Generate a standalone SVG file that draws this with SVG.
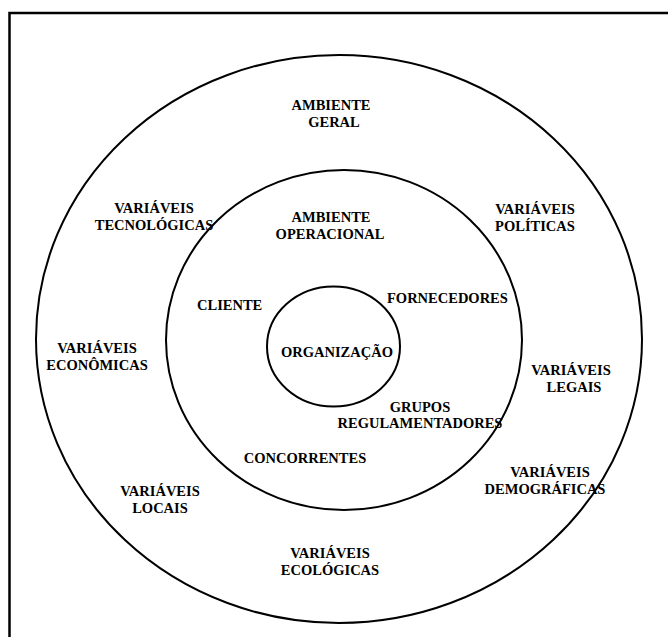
<svg xmlns="http://www.w3.org/2000/svg" width="668" height="637" viewBox="0 0 668 637">
  <style>
    .ring { fill: none; stroke: #000; stroke-width: 2; }
    .frame { fill: none; stroke: #000; stroke-width: 2.5; }
    text { font-family: "Liberation Serif", "Times New Roman", serif; font-weight: bold; font-size: 14.5px; fill: #000; }
    .c { text-anchor: middle; }
  </style>
  <rect width="668" height="637" fill="#fff"/>

  <!-- open frame: top and left edges only -->
  <path class="frame" d="M9.5 637 V13 H668"/>

  <g id="ambiente-geral">
    <ellipse class="ring" cx="339" cy="339" rx="303" ry="284"/>
    <text class="c" x="331" y="110">AMBIENTE</text>
    <text class="c" x="334" y="127">GERAL</text>
  </g>

  <g id="ambiente-operacional">
    <ellipse class="ring" cx="344" cy="340" rx="178" ry="170"/>
    <text class="c" x="331" y="222">AMBIENTE</text>
    <text class="c" x="330" y="239">OPERACIONAL</text>
  </g>

  <g id="organizacao">
    <ellipse class="ring" cx="333.5" cy="346.5" rx="66.5" ry="60"/>
    <text class="c" x="337" y="357">ORGANIZAÇÃO</text>
  </g>

  <!-- operational environment actors -->
  <g id="cliente"><text x="197" y="310">CLIENTE</text></g>
  <g id="fornecedores"><text x="387" y="303">FORNECEDORES</text></g>
  <g id="grupos-regulamentadores">
    <text class="c" x="420" y="412">GRUPOS</text>
    <text class="c" x="420" y="428">REGULAMENTADORES</text>
  </g>
  <g id="concorrentes"><text class="c" x="305" y="463">CONCORRENTES</text></g>

  <!-- general environment variables -->
  <g id="var-tecnologicas">
    <text class="c" x="154" y="213">VARIÁVEIS</text>
    <text class="c" x="154" y="230">TECNOLÓGICAS</text>
  </g>
  <g id="var-politicas">
    <text class="c" x="535" y="214">VARIÁVEIS</text>
    <text class="c" x="535" y="231">POLÍTICAS</text>
  </g>
  <g id="var-economicas">
    <text class="c" x="97" y="353">VARIÁVEIS</text>
    <text class="c" x="97" y="370">ECONÔMICAS</text>
  </g>
  <g id="var-legais">
    <text class="c" x="571" y="375">VARIÁVEIS</text>
    <text class="c" x="574" y="392">LEGAIS</text>
  </g>
  <g id="var-demograficas">
    <text class="c" x="550" y="477">VARIÁVEIS</text>
    <text class="c" x="545" y="494">DEMOGRÁFICAS</text>
  </g>
  <g id="var-locais">
    <text class="c" x="160" y="496">VARIÁVEIS</text>
    <text class="c" x="160" y="513">LOCAIS</text>
  </g>
  <g id="var-ecologicas">
    <text class="c" x="330" y="558">VARIÁVEIS</text>
    <text class="c" x="330" y="575">ECOLÓGICAS</text>
  </g>
</svg>
